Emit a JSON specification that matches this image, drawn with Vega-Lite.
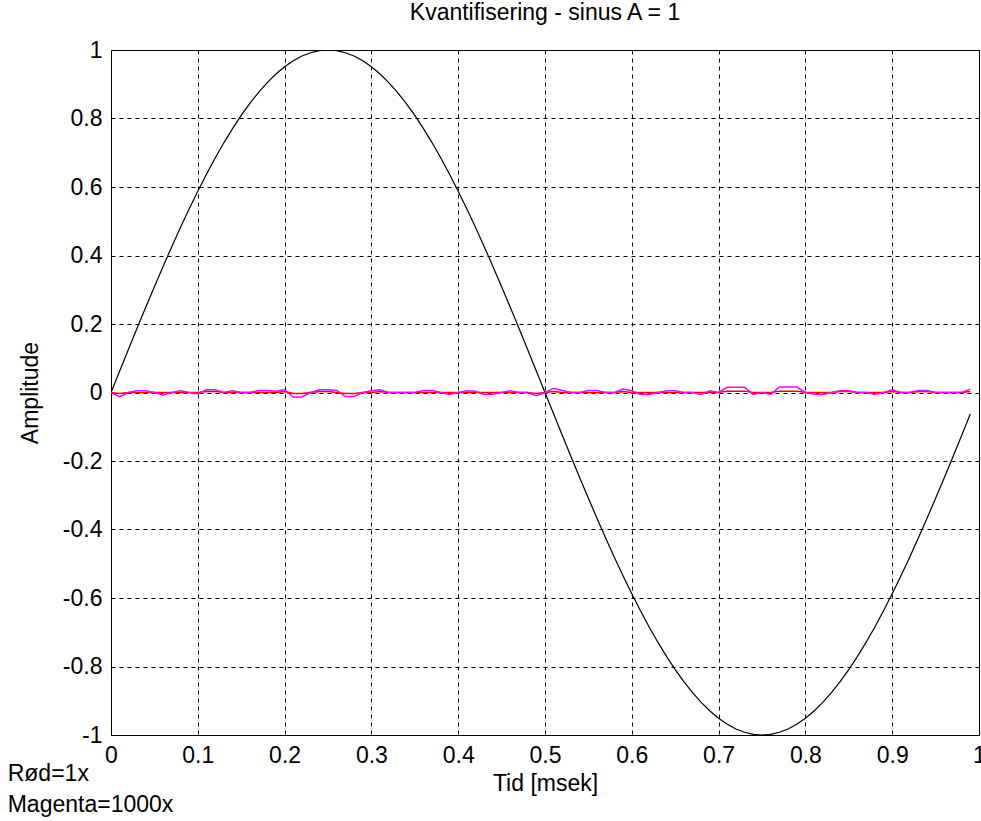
{
  "$schema": "https://vega.github.io/schema/vega-lite/v6.json",
  "autosize": {"type": "none"},
  "width": 868,
  "height": 685,
  "padding": {"left": 111, "top": 50, "right": 2, "bottom": 86},
  "background": "white",
  "config": {
    "view": {"stroke": "black", "strokeWidth": 1},
    "font": "Liberation Sans",
    "axis": {
      "labelFont": "Liberation Sans", "labelFontSize": 23, "labelColor": "black",
      "titleFont": "Liberation Sans", "titleFontSize": 23, "titleFontWeight": "normal", "titleColor": "black",
      "grid": true, "gridColor": "black", "gridDash": [4, 4], "gridOpacity": 1, "gridWidth": 1,
      "domain": false, "ticks": false
    },
    "title": {"font": "Liberation Sans", "fontSize": 23, "fontWeight": "normal", "color": "black", "offset": 14}
  },
  "title": {"text": "Kvantifisering - sinus A = 1", "anchor": "middle"},
  "datasets": {
    "curves": [
      {"t": 0.00, "sine": 0.0, "red": 0, "mag": 0},
      {"t": 0.01, "sine": 0.0628, "red": -0.003, "mag": -0.012},
      {"t": 0.02, "sine": 0.1253, "red": 0, "mag": 0},
      {"t": 0.03, "sine": 0.1874, "red": 0, "mag": 0.005},
      {"t": 0.04, "sine": 0.2487, "red": 0, "mag": 0.005},
      {"t": 0.05, "sine": 0.3090, "red": 0, "mag": 0},
      {"t": 0.06, "sine": 0.3681, "red": 0, "mag": -0.007},
      {"t": 0.07, "sine": 0.4258, "red": 0, "mag": 0},
      {"t": 0.08, "sine": 0.4818, "red": 0, "mag": 0.005},
      {"t": 0.09, "sine": 0.5358, "red": 0, "mag": 0},
      {"t": 0.10, "sine": 0.5878, "red": 0, "mag": -0.004},
      {"t": 0.11, "sine": 0.6374, "red": 0.003, "mag": 0.008},
      {"t": 0.12, "sine": 0.6845, "red": 0.003, "mag": 0.008},
      {"t": 0.13, "sine": 0.7290, "red": 0, "mag": 0},
      {"t": 0.14, "sine": 0.7705, "red": 0, "mag": 0.005},
      {"t": 0.15, "sine": 0.8090, "red": 0, "mag": 0},
      {"t": 0.16, "sine": 0.8443, "red": 0, "mag": 0},
      {"t": 0.17, "sine": 0.8763, "red": 0, "mag": 0.006},
      {"t": 0.18, "sine": 0.9048, "red": 0, "mag": 0.006},
      {"t": 0.19, "sine": 0.9298, "red": 0, "mag": 0.004},
      {"t": 0.20, "sine": 0.9511, "red": 0.003, "mag": 0.008},
      {"t": 0.21, "sine": 0.9686, "red": -0.003, "mag": -0.013},
      {"t": 0.22, "sine": 0.9823, "red": -0.003, "mag": -0.013},
      {"t": 0.23, "sine": 0.9921, "red": 0, "mag": 0},
      {"t": 0.24, "sine": 0.9980, "red": 0.003, "mag": 0.008},
      {"t": 0.25, "sine": 1.0, "red": 0.003, "mag": 0.008},
      {"t": 0.26, "sine": 0.9980, "red": 0, "mag": 0.006},
      {"t": 0.27, "sine": 0.9921, "red": -0.003, "mag": -0.012},
      {"t": 0.28, "sine": 0.9823, "red": -0.003, "mag": -0.012},
      {"t": 0.29, "sine": 0.9686, "red": 0, "mag": 0},
      {"t": 0.30, "sine": 0.9511, "red": 0, "mag": 0.005},
      {"t": 0.31, "sine": 0.9298, "red": 0.003, "mag": 0.008},
      {"t": 0.32, "sine": 0.9048, "red": 0, "mag": 0},
      {"t": 0.33, "sine": 0.8763, "red": 0, "mag": 0},
      {"t": 0.34, "sine": 0.8443, "red": 0, "mag": 0},
      {"t": 0.35, "sine": 0.8090, "red": 0, "mag": 0},
      {"t": 0.36, "sine": 0.7705, "red": 0, "mag": 0.006},
      {"t": 0.37, "sine": 0.7290, "red": 0, "mag": 0.006},
      {"t": 0.38, "sine": 0.6845, "red": 0, "mag": 0},
      {"t": 0.39, "sine": 0.6374, "red": 0, "mag": -0.006},
      {"t": 0.40, "sine": 0.5878, "red": 0, "mag": 0},
      {"t": 0.41, "sine": 0.5358, "red": 0, "mag": 0.005},
      {"t": 0.42, "sine": 0.4818, "red": 0, "mag": 0.004},
      {"t": 0.43, "sine": 0.4258, "red": 0, "mag": -0.006},
      {"t": 0.44, "sine": 0.3681, "red": 0, "mag": -0.005},
      {"t": 0.45, "sine": 0.3090, "red": 0, "mag": 0},
      {"t": 0.46, "sine": 0.2487, "red": 0, "mag": 0.005},
      {"t": 0.47, "sine": 0.1874, "red": 0, "mag": 0},
      {"t": 0.48, "sine": 0.1253, "red": 0, "mag": 0},
      {"t": 0.49, "sine": 0.0628, "red": -0.003, "mag": -0.009},
      {"t": 0.50, "sine": 0.0, "red": 0, "mag": 0},
      {"t": 0.51, "sine": -0.0628, "red": 0.003, "mag": 0.012},
      {"t": 0.52, "sine": -0.1253, "red": 0, "mag": 0.006},
      {"t": 0.53, "sine": -0.1874, "red": 0, "mag": 0},
      {"t": 0.54, "sine": -0.2487, "red": 0, "mag": 0},
      {"t": 0.55, "sine": -0.3090, "red": 0, "mag": 0.006},
      {"t": 0.56, "sine": -0.3681, "red": 0, "mag": 0.006},
      {"t": 0.57, "sine": -0.4258, "red": 0, "mag": 0},
      {"t": 0.58, "sine": -0.4818, "red": 0, "mag": 0},
      {"t": 0.59, "sine": -0.5358, "red": 0.003, "mag": 0.010},
      {"t": 0.60, "sine": -0.5878, "red": 0, "mag": 0.005},
      {"t": 0.61, "sine": -0.6374, "red": 0, "mag": -0.006},
      {"t": 0.62, "sine": -0.6845, "red": 0, "mag": -0.006},
      {"t": 0.63, "sine": -0.7290, "red": 0, "mag": 0},
      {"t": 0.64, "sine": -0.7705, "red": 0, "mag": 0.005},
      {"t": 0.65, "sine": -0.8090, "red": 0, "mag": 0.005},
      {"t": 0.66, "sine": -0.8443, "red": 0, "mag": 0},
      {"t": 0.67, "sine": -0.8763, "red": 0, "mag": 0},
      {"t": 0.68, "sine": -0.9048, "red": 0, "mag": -0.006},
      {"t": 0.69, "sine": -0.9298, "red": 0, "mag": 0.005},
      {"t": 0.70, "sine": -0.9511, "red": 0, "mag": 0},
      {"t": 0.71, "sine": -0.9686, "red": 0.004, "mag": 0.015},
      {"t": 0.72, "sine": -0.9823, "red": 0.004, "mag": 0.015},
      {"t": 0.73, "sine": -0.9921, "red": 0.004, "mag": 0.015},
      {"t": 0.74, "sine": -0.9980, "red": 0, "mag": -0.006},
      {"t": 0.75, "sine": -1.0, "red": 0, "mag": 0},
      {"t": 0.76, "sine": -0.9980, "red": 0, "mag": -0.006},
      {"t": 0.77, "sine": -0.9921, "red": 0.004, "mag": 0.016},
      {"t": 0.78, "sine": -0.9823, "red": 0.004, "mag": 0.016},
      {"t": 0.79, "sine": -0.9686, "red": 0.004, "mag": 0.016},
      {"t": 0.80, "sine": -0.9511, "red": 0, "mag": 0},
      {"t": 0.81, "sine": -0.9298, "red": 0, "mag": -0.005},
      {"t": 0.82, "sine": -0.9048, "red": 0, "mag": -0.006},
      {"t": 0.83, "sine": -0.8763, "red": 0, "mag": 0},
      {"t": 0.84, "sine": -0.8443, "red": 0.003, "mag": 0.005},
      {"t": 0.85, "sine": -0.8090, "red": 0.003, "mag": 0.005},
      {"t": 0.86, "sine": -0.7705, "red": 0, "mag": 0},
      {"t": 0.87, "sine": -0.7290, "red": 0, "mag": 0},
      {"t": 0.88, "sine": -0.6845, "red": 0, "mag": -0.006},
      {"t": 0.89, "sine": -0.6374, "red": 0, "mag": 0},
      {"t": 0.90, "sine": -0.5878, "red": 0.003, "mag": 0.008},
      {"t": 0.91, "sine": -0.5358, "red": 0, "mag": 0},
      {"t": 0.92, "sine": -0.4818, "red": 0, "mag": 0},
      {"t": 0.93, "sine": -0.4258, "red": 0.003, "mag": 0.006},
      {"t": 0.94, "sine": -0.3681, "red": 0.003, "mag": 0.006},
      {"t": 0.95, "sine": -0.3090, "red": 0, "mag": 0},
      {"t": 0.96, "sine": -0.2487, "red": 0, "mag": 0},
      {"t": 0.97, "sine": -0.1874, "red": 0, "mag": 0},
      {"t": 0.98, "sine": -0.1253, "red": 0, "mag": 0},
      {"t": 0.99, "sine": -0.0628, "red": 0.003, "mag": 0.010}
    ],
    "notes": [
      {"t": -0.119, "a": -1.115, "label": "Rød=1x"},
      {"t": -0.119, "a": -1.205, "label": "Magenta=1000x"}
    ]
  },
  "layer": [
    {
      "data": {"name": "curves"},
      "mark": {"type": "line", "color": "black", "strokeWidth": 1.2, "clip": true},
      "encoding": {
        "x": {"field": "t", "type": "quantitative", "scale": {"domain": [0, 1], "nice": false},
          "axis": {"values": [0, 0.1, 0.2, 0.3, 0.4, 0.5, 0.6, 0.7, 0.8, 0.9, 1], "labelExpr": "toString(round(datum.value*10)/10)", "labelPadding": 9, "title": "Tid [msek]", "titlePadding": 5, "labelFlush": false}},
        "y": {"field": "sine", "type": "quantitative", "scale": {"domain": [-1, 1], "nice": false},
          "axis": {"values": [-1, -0.8, -0.6, -0.4, -0.2, 0, 0.2, 0.4, 0.6, 0.8, 1], "labelExpr": "toString(round(datum.value*10)/10)", "labelPadding": 9, "title": "Amplitude", "titlePadding": 20, "labelFlush": false}}
      }
    },
    {
      "data": {"name": "curves"},
      "mark": {"type": "line", "color": "#ff0000", "strokeWidth": 1.5},
      "encoding": {
        "x": {"field": "t", "type": "quantitative"},
        "y": {"field": "red", "type": "quantitative"}
      }
    },
    {
      "data": {"name": "curves"},
      "mark": {"type": "line", "color": "#ff00ff", "strokeWidth": 1.5},
      "encoding": {
        "x": {"field": "t", "type": "quantitative"},
        "y": {"field": "mag", "type": "quantitative"}
      }
    },
    {
      "data": {"name": "notes"},
      "mark": {"type": "text", "align": "left", "baseline": "middle", "font": "Liberation Sans", "fontSize": 23, "color": "black"},
      "encoding": {
        "x": {"field": "t", "type": "quantitative"},
        "y": {"field": "a", "type": "quantitative"},
        "text": {"field": "label"}
      }
    }
  ]
}
